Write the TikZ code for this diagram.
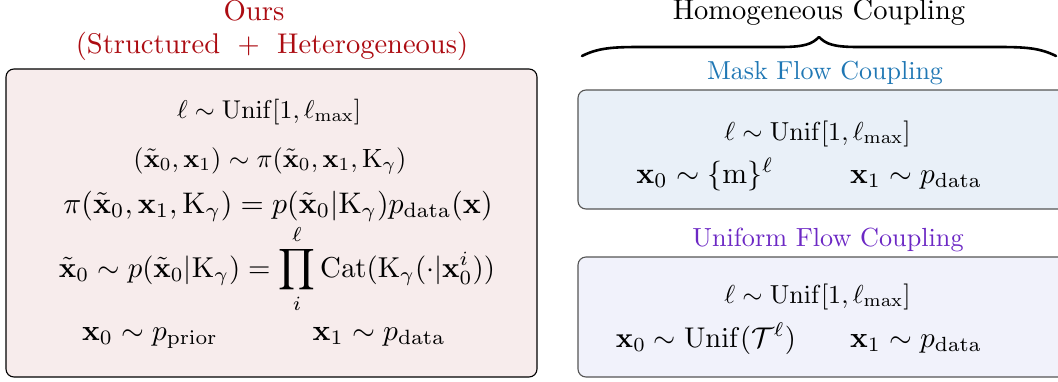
\documentclass[tikz,border=0pt]{standalone}
\usepackage{amsmath,amssymb}
\definecolor{oursred}{RGB}{172,12,18}
\definecolor{maskblue}{RGB}{31,119,180}
\definecolor{unipurple}{RGB}{108,40,196}
\definecolor{pinkfill}{RGB}{247,236,236}
\definecolor{bluefill}{RGB}{233,240,248}
\definecolor{lavfill}{RGB}{241,242,251}
\definecolor{boxgray}{RGB}{85,85,85}
\newcommand{\bx}{\mathbf{x}}
\newcommand{\tbx}{\tilde{\mathbf{x}}}
\newcommand{\Kg}{\mathrm{K}_\gamma}
\tikzset{
  txt/.style={anchor=base,inner sep=0pt,font=\fontsize{10}{12}\selectfont,transform shape,scale=#1},
  panel/.style={rounded corners=8pt,line width=1.1pt}
}
\begin{document}
\begin{tikzpicture}[x=1pt,y=-1pt]
\useasboundingbox (0,0) rectangle (1058,381);
% left panel
\draw[panel,fill=pinkfill,draw=black] (6,69) rectangle (537,377);
\node[txt=2.87,text=oursred] (ours) at (254,20) {Ours};
\node[txt=2.85,text=oursred] (struct) at (272,53) {(Structured $\;+\;$ Heterogeneous)};
\node[txt=2.57] (l1) at (269,118) {$\ell\sim\mathrm{Unif}[1,\ell_{\max}]$};
\node[txt=2.64] (l2) at (270,167) {$(\tbx_0,\bx_1)\sim\pi(\tbx_0,\bx_1,\Kg)$};
\node[txt=2.98] (l3) at (278,213) {$\pi(\tbx_0,\bx_1,\Kg)=p(\tbx_0|\Kg)p_{\mathrm{data}}(\bx)$};
\node[txt=2.88] (l4) at (277,277) {$\tbx_0\sim p(\tbx_0|\Kg)=\displaystyle\prod_{i}^{\ell}\mathrm{Cat}(\Kg(\cdot|\bx_0^i))$};
\node[txt=2.93] (l5a) at (150,340) {$\bx_0\sim p_{\mathrm{prior}}$};
\node[txt=2.95] (l5b) at (379,340) {$\bx_1\sim p_{\mathrm{data}}$};
% right panels
\draw[panel,fill=bluefill,draw=boxgray] (578,90) rectangle (1070,209);
\draw[panel,fill=lavfill,draw=boxgray] (578,257) rectangle (1070,377);
\node[txt=2.85] (homo) at (819,19) {Homogeneous Coupling};
\draw[line width=2.6pt,line cap=round,line join=round]
  (582,56) .. controls (598,48) and (612,47) .. (640,47)
  -- (780,47) .. controls (805,47) and (812,44) .. (819,37)
  .. controls (826,44) and (833,47) .. (858,47)
  -- (998,47) .. controls (1026,47) and (1040,48) .. (1056,56);
\node[txt=2.6,text=maskblue] (mask) at (825,79) {Mask Flow Coupling};
\node[txt=2.6] (m1) at (817.5,140) {$\ell\sim\mathrm{Unif}[1,\ell_{\max}]$};
\node[txt=2.98] (m2a) at (705,183) {$\bx_0\sim\{\mathrm{m}\}^{\ell}$};
\node[txt=2.93] (m2b) at (916,183) {$\bx_1\sim p_{\mathrm{data}}$};
\node[txt=2.62,text=unipurple] (uni) at (828,246) {Uniform Flow Coupling};
\node[txt=2.6] (u1) at (817.5,303) {$\ell\sim\mathrm{Unif}[1,\ell_{\max}]$};
\node[txt=2.85] (u2a) at (706,347) {$\bx_0\sim\mathrm{Unif}(\mathcal{T}^{\ell})$};
\node[txt=2.93] (u2b) at (916,347) {$\bx_1\sim p_{\mathrm{data}}$};
\end{tikzpicture}
\end{document}
